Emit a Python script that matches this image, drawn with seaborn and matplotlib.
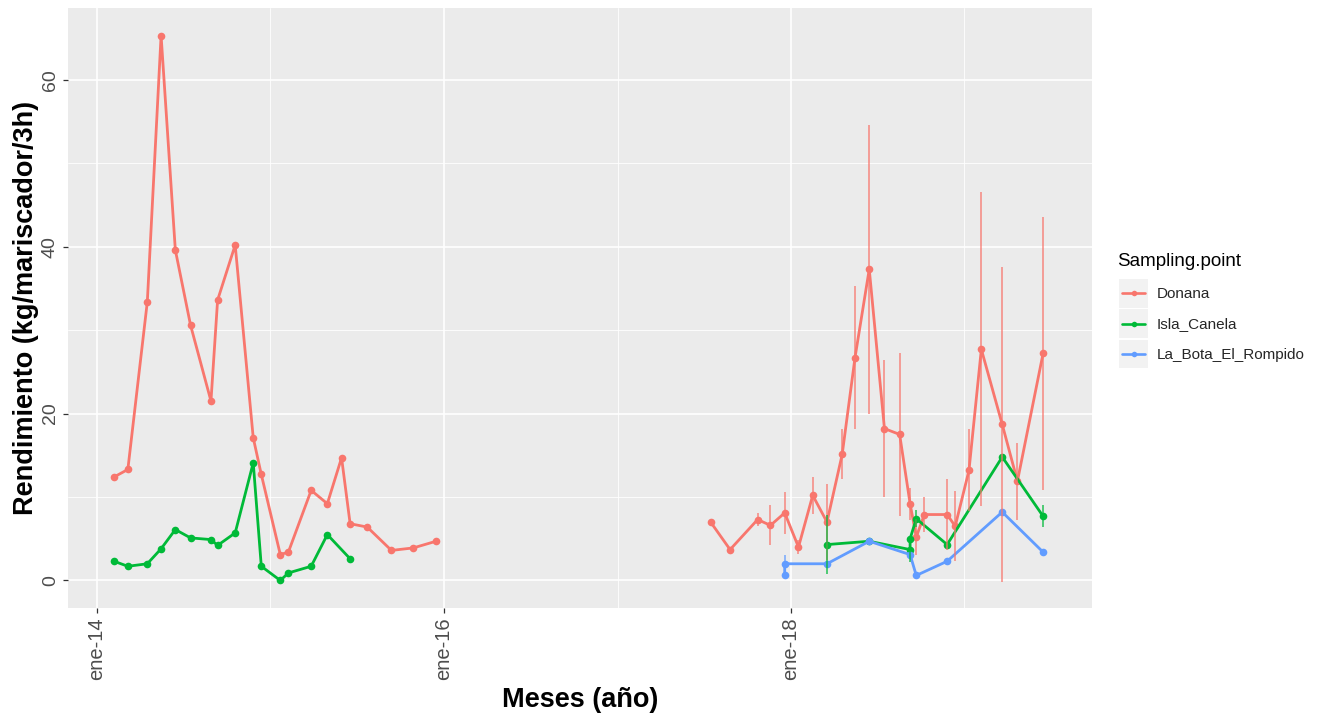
import matplotlib
matplotlib.use("Agg")
import matplotlib.pyplot as plt
from matplotlib.lines import Line2D
from matplotlib.patches import Rectangle
from matplotlib.legend_handler import HandlerBase
import numpy as np
import pandas as pd
import seaborn as sns

# ---------------- data ----------------
series_names = ["Donana", "Isla_Canela", "La_Bota_El_Rompido"]
series_colors = ["#F8766D", "#00BA38", "#619CFF"]
legend_title = "Sampling.point"

donana_dates = ["2014-02-06", "2014-03-07", "2014-04-17", "2014-05-16", "2014-06-15", "2014-07-17",
                "2014-08-29", "2014-09-12", "2014-10-19", "2014-11-26", "2014-12-13", "2015-01-22",
                "2015-02-08", "2015-03-28", "2015-05-01", "2015-05-31", "2015-06-18", "2015-07-24",
                "2015-09-13", "2015-10-29", "2015-12-16",
                "2017-07-16", "2017-08-26", "2017-10-23", "2017-11-19", "2017-12-19", "2018-01-17",
                "2018-02-16", "2018-03-18", "2018-04-19", "2018-05-16", "2018-06-15", "2018-07-17",
                "2018-08-18", "2018-09-09", "2018-09-22", "2018-10-09", "2018-11-26", "2018-12-13",
                "2019-01-11", "2019-02-06", "2019-03-22", "2019-04-23", "2019-06-16"]
donana_values = [12.4, 13.3, 33.4, 65.3, 39.6, 30.6, 21.5, 33.6, 40.2, 17.1, 12.7, 3.1,
                 3.4, 10.8, 9.2, 14.7, 6.8, 6.4, 3.6, 3.9, 4.7,
                 7.0, 3.7, 7.3, 6.6, 8.1, 4.0, 10.2, 7.0, 15.1, 26.7, 37.3, 18.2,
                 17.5, 9.2, 5.2, 7.9, 7.9, 6.5, 13.2, 27.7, 18.7, 11.9, 27.2]
donana_sd = [np.nan] * 21 + [np.nan, np.nan, 0.8, 2.4, 2.5, 0.8, 2.2, 4.6, 3.0, 8.6, 17.3, 8.2,
                             9.8, 1.9, 2.2, 2.1, 4.3, 4.2, 4.9, 18.8, 18.9, 4.6, 16.4]
donana_segment = [1] * 21 + [2] * 23

isla_dates = ["2014-02-06", "2014-03-07", "2014-04-17", "2014-05-16", "2014-06-15", "2014-07-17",
              "2014-08-29", "2014-09-12", "2014-10-19", "2014-11-26", "2014-12-13", "2015-01-22",
              "2015-02-08", "2015-03-28", "2015-05-01", "2015-06-18",
              "2018-03-18", "2018-06-15", "2018-09-09", "2018-09-09", "2018-09-22", "2018-11-26",
              "2019-03-22", "2019-06-16"]
isla_values = [2.3, 1.7, 2.0, 3.8, 6.1, 5.1, 4.9, 4.2, 5.7, 14.1, 1.7, 0.0,
               0.9, 1.7, 5.5, 2.6,
               4.3, 4.7, 3.7, 5.0, 7.4, 4.3, 14.8, 7.7]
isla_sd = [np.nan] * 16 + [3.5, np.nan, 1.5, np.nan, 1.0, np.nan, np.nan, 1.3]
isla_segment = [1] * 16 + [2] * 8

bota_dates = ["2017-12-19", "2017-12-19", "2018-03-18", "2018-06-15", "2018-09-09", "2018-09-22",
              "2018-11-26", "2019-03-22", "2019-06-16"]
bota_values = [0.6, 2.0, 2.0, 4.7, 3.1, 0.6, 2.3, 8.2, 3.4]
bota_sd = [np.nan, 1.0, np.nan, np.nan, np.nan, np.nan, np.nan, np.nan, np.nan]
bota_segment = [2] * 9

x_tick_dates = ["2014-01-01", "2016-01-01", "2018-01-01"]
x_tick_labels = ["ene-14", "ene-16", "ene-18"]
x_minor_dates = ["2015-01-01", "2017-01-01", "2019-01-01"]
y_ticks = [0, 20, 40, 60]
y_minor = [10, 30, 50]

# ---------------- frame ----------------
frames = []
for name, d, v, s, g in [
    ("Donana", donana_dates, donana_values, donana_sd, donana_segment),
    ("Isla_Canela", isla_dates, isla_values, isla_sd, isla_segment),
    ("La_Bota_El_Rompido", bota_dates, bota_values, bota_sd, bota_segment),
]:
    frames.append(pd.DataFrame({"date": pd.to_datetime(d), "value": v, "sd": s,
                                "segment": g, "Sampling.point": name}))
df = pd.concat(frames, ignore_index=True)
df["unit"] = df["Sampling.point"] + "_" + df["segment"].astype(str)

# ---------------- style ----------------
sns.set_theme(style="darkgrid")
plt.rcParams["font.family"] = ["Liberation Sans", "DejaVu Sans"]
plt.rcParams["axes.facecolor"] = "#EBEBEB"

fig = plt.figure(figsize=(13.18, 7.14), dpi=100)
fig.patch.set_facecolor("white")
ax = fig.add_axes([68 / 1318, 1 - 608 / 714, (1092 - 68) / 1318, 600 / 714])
ax.set_facecolor("#EBEBEB")

palette = dict(zip(series_names, series_colors))

sns.lineplot(data=df, x="date", y="value", hue="Sampling.point", units="unit",
             estimator=None, sort=False, palette=palette, hue_order=series_names,
             marker="o", markersize=5.5, markeredgewidth=0, linewidth=2.0,
             legend=False, ax=ax, zorder=3)

# error bars
for name, col in zip(series_names, series_colors):
    sub = df[(df["Sampling.point"] == name) & df["sd"].notna()]
    ax.vlines(sub["date"], sub["value"] - sub["sd"], sub["value"] + sub["sd"],
              color=col, lw=1.1, alpha=0.85, zorder=4)

# axes limits
ax.set_xlim(pd.Timestamp("2013-11-01"), pd.Timestamp("2019-09-27"))
ax.set_ylim(-3.3, 68.6)

ax.set_xticks(pd.to_datetime(x_tick_dates))
ax.set_xticklabels(x_tick_labels, rotation=90, fontsize=14.5, color="#4D4D4D", va="top", ha="center")
ax.set_xticks(pd.to_datetime(x_minor_dates), minor=True)
ax.set_yticks(y_ticks)
ax.set_yticklabels([str(t) for t in y_ticks], rotation=90, fontsize=14, color="#4D4D4D",
                   va="center", ha="right")
ax.set_yticks(y_minor, minor=True)

ax.grid(which="major", color="white", lw=1.2)
ax.grid(which="minor", color="white", lw=0.6)
ax.tick_params(which="major", length=3.5, width=0.9, color="#333333", pad=3, bottom=True, left=True)
ax.tick_params(which="minor", length=0)
for sp in ax.spines.values():
    sp.set_visible(False)

ax.set_xlabel("Meses (año)", fontsize=19.5, fontweight="bold", color="black", labelpad=5)
ax.set_ylabel("Rendimiento (kg/mariscador/3h)", fontsize=19.5, fontweight="bold", color="black", labelpad=2)


# legend with grey key backgrounds (ggplot style)
class KeyHandler(HandlerBase):
    def create_artists(self, legend, orig_handle, xdescent, ydescent, width, height, fontsize, trans):
        rect = Rectangle((-xdescent, -ydescent), width, height, facecolor="#F2F2F2",
                         edgecolor="none", transform=trans)
        ymid = -ydescent + height / 2
        line = Line2D([-xdescent + width * 0.1, -xdescent + width * 0.9], [ymid, ymid],
                      color=orig_handle.get_color(), lw=1.9, transform=trans)
        dot = Line2D([-xdescent + width / 2], [ymid], color=orig_handle.get_color(),
                     marker="o", markersize=4, markeredgewidth=0, lw=0, transform=trans)
        return [rect, line, dot]


fig.text(1117 / 1318, 1 - 262 / 714, legend_title, fontsize=13.5, color="black",
         ha="left", va="center")
handles = [Line2D([], [], color=c) for c in series_colors]
leg = fig.legend(handles, series_names, handler_map={Line2D: KeyHandler()},
                 loc="upper left", bbox_to_anchor=(1119 / 1318, 1 - 279 / 714),
                 fontsize=11, frameon=False, handlelength=1.9, handleheight=2.5,
                 labelspacing=0.12, handletextpad=0.55, borderaxespad=0, borderpad=0)

fig.savefig("out.png", dpi=100)
